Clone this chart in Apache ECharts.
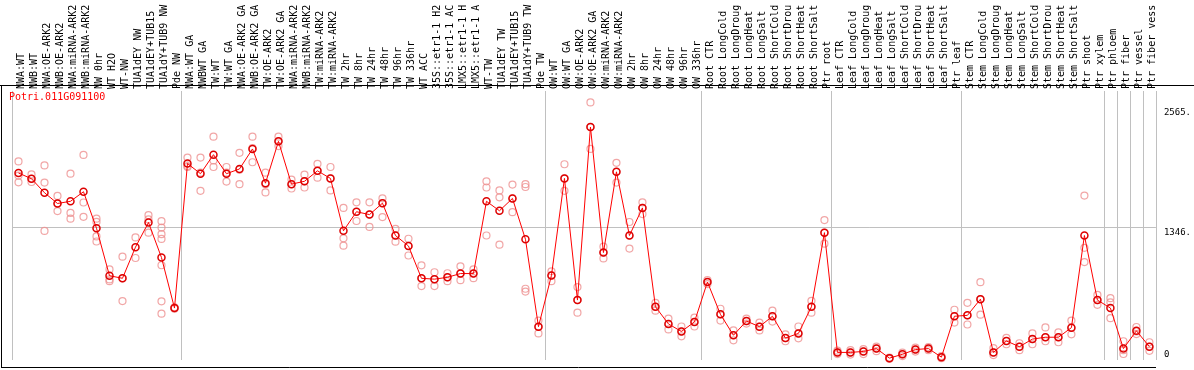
<!DOCTYPE html>
<html>
<head>
<meta charset="utf-8">
<script src="https://cdn.jsdelivr.net/npm/echarts@6/dist/echarts.min.js"></script>
<style>html,body{margin:0;padding:0;background:#fff;}#c{width:1194px;height:370px;}</style>
</head>
<body>
<div id="c"></div>
<script>
const geneName = 'Potri.011G091100';

const categories = [
  'NWA:WT','NWB:WT','NWA:OE-ARK2','NWB:OE-ARK2','NWA:miRNA-ARK2','NWB:miRNA-ARK2','NW 0hr','WT H2O','WT-NW','TUA1dEY NW','TUA1dEY+TUB15 NW','TUA1dY+TUB9 NW','Pde NW',
  'NWA:WT GA','NWBWT GA','TW:WT','TW:WT GA','NWA:OE-ARK2 GA','NWB:OE-ARK2 GA','TW:OE-ARK2','TW:OE-ARK2 GA','NWA:miRNA-ARK2 GA','NWB:miRNA-ARK2 GA','TW:miRNA-ARK2','TW:miRNA-ARK2 GA','TW 2hr','TW 8hr','TW 24hr','TW 48hr','TW 96hr','TW 336hr','WT ACC','35S::etr1-1 H2O','35S::etr1-1 ACC','LMX5::etr1-1 H2O','LMX5::etr1-1 ACC','WT-TW','TUA1dEY TW','TUA1dEY+TUB15 TW','TUA1dY+TUB9 TW','Pde TW',
  'OW:WT','OW:WT GA','OW:OE-ARK2','OW:OE-ARK2 GA','OW:miRNA-ARK2','OW:miRNA-ARK2 GA','OW 2hr','OW 8hr','OW 24hr','OW 48hr','OW 96hr','OW 336hr',
  'Root CTR','Root LongCold','Root LongDrought','Root LongHeat','Root LongSalt','Root ShortCold','Root ShortDrought','Root ShortHeat','Root ShortSalt','Ptr root',
  'Leaf CTR','Leaf LongCold','Leaf LongDrought','Leaf LongHeat','Leaf LongSalt','Leaf ShortCold','Leaf ShortDrought','Leaf ShortHeat','Leaf ShortSalt','Ptr leaf',
  'Stem CTR','Stem LongCold','Stem LongDrought','Stem LongHeat','Stem LongSalt','Stem ShortCold','Stem ShortDrought','Stem ShortHeat','Stem ShortSalt','Ptr shoot','Ptr xylem',
  'Ptr phloem','Ptr fiber','Ptr vessel','Ptr fiber vessel'
];

// first category index of each group (group separators)
const groupStarts = [0, 13, 41, 53, 63, 73, 84, 85, 86, 87];

const meanValues = [
  1897,1839,1697,1588,1610,1707,1337,855,829,1145,1395,1039,527,
  1993,1890,2083,1890,1938,2141,1794,2218,1784,1813,1919,1842,1311,1504,1475,1591,1263,1157,829,820,839,877,877,1610,1514,1639,1225,338,
  858,1842,608,2363,1090,1909,1263,1543,540,366,289,386,
  791,463,251,395,338,444,222,270,540,1292,
  77,77,87,116,19,58,106,116,29,444,
  453,617,77,193,135,212,231,231,328,1263,608,
  527,116,296,135
];

const replicates = [
  [2015,1871,1803],[1883,1839,1806],[1974,1800,1309],[1665,1588,1511],[1890,1492,1434],[2080,1598,1453],[1434,1401,1254,1202],[919,817,800],[1048,829,598],[1244,1035],[1469,1427,1292],[1408,1343,1276,1228,961,595,470],[527,520,535],
  [2054,1958,1967],[2054,1900,1716],[2266,2025,1958],[1958,1900,1810],[2102,1930,1784],[2266,2150,2006],[1900,1784,1700],[2266,2218,2170],[1830,1784,1740],[1880,1813,1750],[1990,1919,1850],[1958,1842,1720],[1543,1234,1160],[1600,1504,1410],[1600,1475,1350],[1640,1591,1450],[1330,1263,1200],[1230,1157,1060],[960,829,750],[890,820,750],[880,839,800],[950,877,810],[920,877,830],[1813,1750,1263],[1720,1650,1170],[1780,1639,1500],[1784,1755,723,694],[400,338,270],
  [900,858,800],[1986,1842,1716],[740,608,480],[2613,2363,2141],[1150,1090,1030],[2000,1909,1800],[1400,1263,1130],[1600,1543,1480],[580,540,500],[420,366,310],[340,289,240],[430,386,340],
  [810,791,770],[520,463,400],[300,251,200],[420,395,370],[380,338,300],[500,444,390],[260,222,190],[340,270,220],[600,540,480],[1420,1292,1180],
  [95,77,60],[100,77,55],[110,87,60],[135,116,90],[25,19,12],[75,58,40],[125,106,85],[130,116,100],[40,29,18],[510,444,380],
  [580,453,360],[790,617,460],[120,77,50],[225,193,160],[170,135,100],[270,212,160],[330,231,190],[280,231,180],[400,328,260],[1668,1138,993],[660,608,560],
  [627,585,424],[190,100,61],[335,290,263],[180,135,93]
];

const yMax = 2729;
const yTickValues = [0, 1346, 2565];
const yTickLabels = ['0', '1346.', '2565.'];
const gridLineValue = 1346;

const repData = [];
replicates.forEach((reps, i) => reps.forEach(v => repData.push([i, v])));

const sepSet = new Set(groupStarts);
const sepFn = (idx) => sepSet.has(idx);
const mono = 'DejaVu Sans Mono';

const chart = echarts.init(document.getElementById('c'), null, {renderer: 'canvas'});
chart.setOption({
  animation: false,
  backgroundColor: '#ffffff',
  title: {
    text: geneName, left: 9, top: 92, padding: 0,
    textStyle: {color: '#ff0000', fontSize: 10, fontFamily: mono, fontWeight: 'normal'}
  },
  grid: {left: 12, right: 38, top: 85, bottom: 2, containLabel: false},
  xAxis: {
    type: 'category', position: 'top', data: categories, boundaryGap: true,
    axisLine: {show: false},
    axisTick: {show: true, interval: sepFn, length: 85, lineStyle: {color: '#c0c0c0', width: 1}},
    axisLabel: {
      interval: 0, rotate: 90, margin: 2, fontSize: 10, fontFamily: mono, color: '#000',
      width: 86, overflow: 'truncate', ellipsis: '', verticalAlign: 'top', lineHeight: 5
    },
    splitLine: {show: true, interval: sepFn, lineStyle: {color: '#c0c0c0', width: 1}}
  },
  yAxis: {
    type: 'value', position: 'right', min: 0, max: yMax,
    axisLine: {show: false}, axisTick: {show: false}, splitLine: {show: false},
    axisLabel: {
      customValues: yTickValues,
      formatter: (v) => {
        const lab = yTickLabels[yTickValues.indexOf(v)];
        return v === 0 ? lab + '\n' : '\n' + lab;
      },
      verticalAlign: 'middle', lineHeight: 10, margin: 8, fontSize: 9, fontFamily: mono, color: '#000'
    }
  },
  graphic: [
    {type: 'line', shape: {x1: 0, y1: 85.5, x2: 1194, y2: 85.5}, style: {stroke: '#000', lineWidth: 1}, z: 100},
    {type: 'line', shape: {x1: 1.5, y1: 85, x2: 1.5, y2: 368}, style: {stroke: '#000', lineWidth: 1}, z: 100},
    {type: 'line', shape: {x1: 1, y1: 367.5, x2: 1156, y2: 367.5}, style: {stroke: '#000', lineWidth: 1}, z: 100}
  ],
  series: [
    {
      type: 'scatter', data: repData, symbol: 'circle', symbolSize: 7,
      itemStyle: {color: 'rgba(0,0,0,0)', borderColor: '#ee9090', borderWidth: 1.2},
      z: 2, silent: true
    },
    {
      type: 'line', data: meanValues, symbol: 'circle', symbolSize: 7, showAllSymbol: true,
      lineStyle: {color: '#ff0000', width: 1},
      itemStyle: {color: 'rgba(0,0,0,0)', borderColor: '#dd0000', borderWidth: 1.5},
      z: 3, silent: true,
      markLine: {
        silent: true, symbol: ['none', 'none'], label: {show: false},
        lineStyle: {color: '#c0c0c0', type: 'solid', width: 1},
        data: [{yAxis: gridLineValue}], z: 1
      }
    }
  ]
});
</script>
</body>
</html>
